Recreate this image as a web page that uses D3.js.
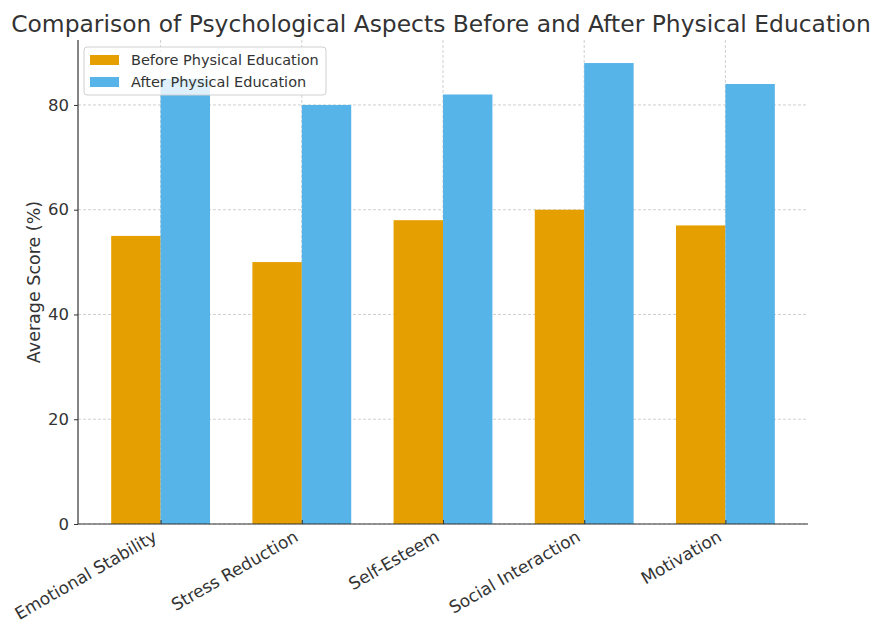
<!DOCTYPE html>
<html>
<head>
<meta charset="utf-8">
<script src="https://cdn.jsdelivr.net/npm/d3@7"></script>
<style>
  html, body { margin: 0; padding: 0; background: #ffffff; }
  svg { display: block; font-family: "DejaVu Sans", sans-serif; }
</style>
</head>
<body>
<svg id="chart" width="874" height="623"></svg>
<script>
// Average scores per psychological aspect, before and after PE
const categories = ["Emotional Stability", "Stress Reduction", "Self-Esteem", "Social Interaction", "Motivation"];
const beforeValues = [55, 50, 58, 60, 57];
const afterValues = [85, 80, 82, 88, 84];
const seriesNames = ["Before Physical Education", "After Physical Education"];
const seriesColors = ["#E69F00", "#56B4E9"];
const yTicks = [0, 20, 40, 60, 80];

const svg = d3.select("#chart");
const margin = { left: 78, right: 66, top: 40, bottom: 99 };
const W = 874, H = 623;
const plotW = W - margin.left - margin.right;
const plotH = H - margin.top - margin.bottom;

const barW = 0.35;
// numeric x scale in category units (index), padded like a bar chart
const x = d3.scaleLinear()
  .domain([-barW - 0.235, categories.length - 1 + barW + 0.235])
  .range([margin.left, margin.left + plotW]);
const yMax = d3.max(afterValues.concat(beforeValues)) * 1.05;
const y = d3.scaleLinear().domain([0, yMax]).range([margin.top + plotH, margin.top]);

const g = svg.append("g");

// grid
g.append("g").selectAll("line.hgrid").data(yTicks).join("line")
  .attr("x1", margin.left).attr("x2", margin.left + plotW)
  .attr("y1", d => y(d)).attr("y2", d => y(d))
  .attr("stroke", "#c4c4c4").attr("stroke-width", 0.8).attr("stroke-dasharray", "3,2");
g.append("g").selectAll("line.vgrid").data(categories).join("line")
  .attr("x1", (d, i) => x(i)).attr("x2", (d, i) => x(i))
  .attr("y1", margin.top).attr("y2", margin.top + plotH)
  .attr("stroke", "#c4c4c4").attr("stroke-width", 0.8).attr("stroke-dasharray", "3,2");

// bars
const series = [beforeValues, afterValues];
series.forEach((vals, s) => {
  g.append("g").selectAll("rect").data(vals).join("rect")
    .attr("x", (d, i) => s === 0 ? x(i - barW) : x(i))
    .attr("width", x(barW) - x(0))
    .attr("y", d => y(d))
    .attr("height", d => y(0) - y(d))
    .attr("fill", seriesColors[s]);
});

// axes
const yAxis = d3.axisLeft(y).tickValues(yTicks).tickSize(4).tickPadding(5);
const yg = svg.append("g").attr("transform", `translate(${margin.left},0)`).call(yAxis);
yg.select(".domain").attr("stroke", "#333").attr("stroke-width", 1.2).attr("d", `M0,${y(0)}V${margin.top}`);
yg.selectAll(".tick line").attr("stroke", "#333");
yg.selectAll(".tick text").attr("fill", "#333").style("font-size", "16.5px").style("font-family", "DejaVu Sans");

const xAxis = d3.axisBottom(x).tickValues(categories.map((d, i) => i)).tickFormat(i => categories[i]).tickSize(-4).tickPadding(8);
const xg = svg.append("g").attr("transform", `translate(0,${margin.top + plotH})`).call(xAxis);
xg.select(".domain").attr("stroke", "#333").attr("stroke-width", 1.2).attr("d", `M${margin.left},0H${margin.left + plotW}`);
xg.selectAll(".tick line").attr("stroke", "#333");
xg.selectAll(".tick text")
  .attr("fill", "#333").style("font-size", "17px").style("font-family", "DejaVu Sans")
  .attr("text-anchor", "end")
  .attr("dy", null)
  .attr("x", 0).attr("y", 0)
  .attr("transform", "translate(-3,16) rotate(-30)");

// y axis label
svg.append("text")
  .attr("transform", `translate(40,${margin.top + plotH / 2}) rotate(-90)`)
  .attr("text-anchor", "middle")
  .attr("fill", "#333").style("font-size", "17.5px")
  .text("Average Score (%)");

// title
svg.append("text")
  .attr("x", 441).attr("y", 32)
  .attr("text-anchor", "middle")
  .attr("fill", "#333").style("font-size", "23.4px")
  .text("Comparison of Psychological Aspects Before and After Physical Education");

// legend
const lg = svg.append("g").attr("transform", "translate(84,47)");
lg.append("rect").attr("width", 242).attr("height", 48).attr("rx", 3)
  .attr("fill", "#ffffff").attr("fill-opacity", 0.8)
  .attr("stroke", "#d0d0d0").attr("stroke-width", 1);
seriesNames.forEach((name, i) => {
  lg.append("rect").attr("x", 6).attr("y", 8 + i * 22).attr("width", 29).attr("height", 10)
    .attr("fill", seriesColors[i]);
  lg.append("text").attr("x", 47).attr("y", 13 + i * 22).attr("dy", "0.35em")
    .attr("fill", "#333").style("font-size", "14.5px").text(name);
});
</script>
</body>
</html>
